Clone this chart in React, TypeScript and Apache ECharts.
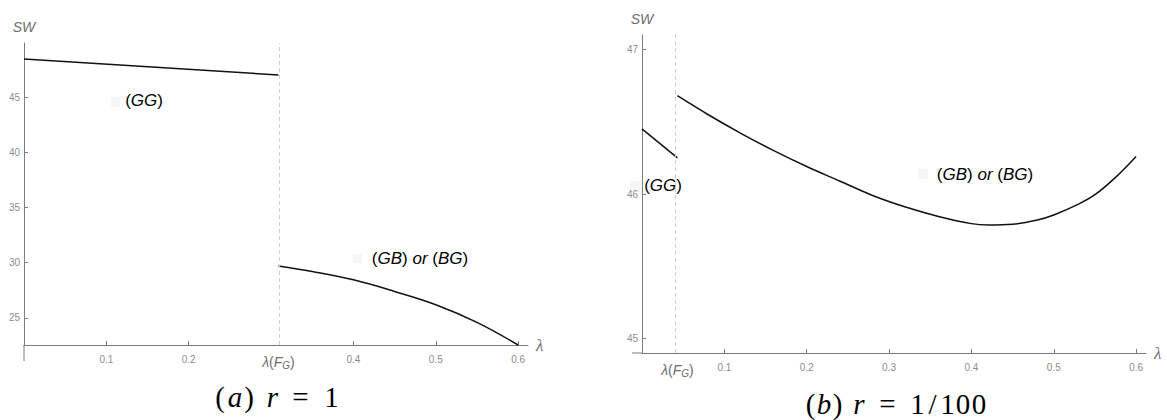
import React, { useEffect, useRef } from "react";
import * as echarts from "echarts";

// ---- data ----
const xFG_a = 0.309;
const xFG_b = 0.043;

const lambdaA_GG = [0, 0.309];
const swA_GG = [48.45, 47.0];
const lambdaA_GB = [0.309, 0.35, 0.4, 0.45, 0.5, 0.55, 0.6];
const swA_GB = [29.7, 29.2, 28.45, 27.4, 26.2, 24.6, 22.55];

const lambdaB_GG = [0, 0.043];
const swB_GG = [46.45, 46.25];
const lambdaB_GB = [0.043, 0.08, 0.12, 0.16, 0.2, 0.24, 0.28, 0.32, 0.36, 0.4, 0.42, 0.45, 0.48, 0.5, 0.53, 0.55, 0.575, 0.6];
const swB_GB = [46.68, 46.55, 46.42, 46.3, 46.19, 46.09, 45.99, 45.91, 45.845, 45.795, 45.785, 45.79, 45.82, 45.855, 45.93, 45.995, 46.115, 46.26];

const xTicksA = [0.1, 0.2, 0.4, 0.5, 0.6];
const xLabelsA = [0.1, 0.2, xFG_a, 0.4, 0.5, 0.6];
const yTicksA = [25, 30, 35, 40, 45];
const xTicksB = [0.1, 0.2, 0.3, 0.4, 0.5, 0.6];
const xLabelsB = [xFG_b, 0.1, 0.2, 0.3, 0.4, 0.5, 0.6];
const yTicksB = [45, 46, 47];

const rangeA = { xMin: 0, xMax: 0.612, yMin: 22.55, yMax: 49.9 };
const rangeB = { xMin: 0, xMax: 0.612, yMin: 44.9, yMax: 47.1 };

const zip = (xs: number[], ys: number[]) => xs.map((x, i) => [x, ys[i]]);

const SANS = "'Liberation Sans', Arial, sans-serif";
const SERIF = "'Liberation Serif', 'DejaVu Serif', serif";
const axisGray = "#7c7c7c";
const tickLabelGray = "#8c8c8c";
const nameGray = "#6e6e6e";

const xLabelRich = {
  t: { fontSize: 10, color: tickLabelGray, fontFamily: SANS },
  li: { fontSize: 14, color: nameGray, fontFamily: SANS, fontStyle: "italic" },
  p: { fontSize: 14, color: nameGray, fontFamily: SANS },
  sub: { fontSize: 10, color: nameGray, fontFamily: SANS, fontStyle: "italic", verticalAlign: "bottom", padding: [6, 0, 0, 0] },
};

const makeXFormatter = (xFG: number) => (v: number) =>
  Math.abs(v - xFG) < 1e-6 ? "{li|λ}{p|(}{li|F}{sub|G}{p|)}" : "{t|" + v.toFixed(1) + "}";

const makeXAxis = (grid: number, r: any, ticks: number[], labels: number[], xFG: number) => ({
  gridIndex: grid,
  type: "value",
  min: r.xMin,
  max: r.xMax,
  splitLine: { show: false },
  axisLine: { show: true, onZero: false, lineStyle: { color: axisGray, width: 1 } },
  axisTick: { show: true, inside: true, length: 4, customValues: ticks, lineStyle: { color: axisGray } },
  axisLabel: { show: true, customValues: labels, margin: 9, formatter: makeXFormatter(xFG), rich: xLabelRich },
  name: "λ",
  nameLocation: "end",
  nameGap: 8,
  nameTextStyle: { fontSize: 17, fontStyle: "italic", color: nameGray, fontFamily: SERIF, verticalAlign: "middle" },
});

const makeYAxis = (grid: number, r: any, ticks: number[]) => ({
  gridIndex: grid,
  type: "value",
  min: r.yMin,
  max: r.yMax,
  splitLine: { show: false },
  axisLine: { show: true, onZero: false, lineStyle: { color: axisGray, width: 1 } },
  axisTick: { show: true, inside: true, length: 4, customValues: ticks, lineStyle: { color: axisGray } },
  axisLabel: { show: true, customValues: ticks, margin: 4, fontSize: 10, color: tickLabelGray, fontFamily: SANS },
  name: "SW",
  nameLocation: "end",
  nameGap: 9,
  nameTextStyle: { fontSize: 14, fontStyle: "italic", color: nameGray, fontFamily: SANS },
});

const dashedLine = (xv: number) => ({
  silent: true,
  symbol: ["none", "none"],
  label: { show: false },
  lineStyle: { type: [4, 3], color: "#cfcfcf", width: 1 },
  data: [{ xAxis: xv }],
});

const lineSeries = (grid: number, data: number[][], smooth: number | false, mark?: any) => ({
  type: "line",
  xAxisIndex: grid,
  yAxisIndex: grid,
  data,
  smooth,
  symbol: "none",
  lineStyle: { color: "#111", width: 1.5 },
  itemStyle: { color: "#111" },
  z: 3,
  ...(mark ? { markLine: mark } : {}),
});

const annRich = {
  n: { fontSize: 17, color: "#111", fontFamily: SANS },
  i: { fontSize: 17, color: "#111", fontFamily: SANS, fontStyle: "italic" },
};
const GG_TEXT = "{n|(}{i|GG}{n|)}";
const GB_TEXT = "{n|(}{i|GB}{n|) }{i|or}{n| (}{i|BG}{n|)}";

const capTok = (fam: string) => ({ fontSize: 29, color: "#111", fontFamily: SERIF, fontStyle: fam, align: "center" });
const capRich: any = {};
[6, 8, 9, 10, 11, 12, 13, 14, 15, 16, 18, 20, 25].forEach((w) => {
  capRich["n" + w] = { ...capTok("normal"), width: w };
  capRich["i" + w] = { ...capTok("italic"), width: w };
  capRich["g" + w] = { width: w };
});
const tok = (s: string, style: string, w: number) => `{${style}${w}|${s}}`;

const CAP_A =
  tok("(", "n", 10) + tok("a", "i", 20) + tok(")", "n", 8) + tok("", "g", 14) +
  tok("r", "i", 11) + tok("", "g", 10) + tok("=", "n", 25) + tok("", "g", 12) + tok("1", "n", 13);
const CAP_B =
  tok("(", "n", 9) + tok("b", "i", 18) + tok(")", "n", 9) + tok("", "g", 10) +
  tok("r", "i", 14) + tok("", "g", 9) + tok("=", "n", 25) + tok("", "g", 10) +
  tok("1", "n", 15) + tok("/", "n", 15) + tok("1", "n", 15) + tok("0", "n", 16) + tok("0", "n", 16);

const faint = (x: number, y: number, w: number, h: number) => ({
  type: "rect",
  shape: { x, y, width: w, height: h },
  style: { fill: "#f6f6f6" },
  silent: true,
  z: -10,
});

const annText = (x: number, y: number, text: string) => ({
  type: "text",
  x,
  y,
  style: { text, rich: annRich, align: "center", verticalAlign: "middle" },
  silent: true,
  z: 5,
});

export default function App() {
  const ref = useRef<HTMLDivElement>(null);
  useEffect(() => {
    document.body.style.margin = "0";
    const chart = echarts.init(ref.current!, null, { renderer: "svg" });
    const option: any = {
      animation: false,
      backgroundColor: "#fff",
      grid: [
        { left: 24, top: 43, width: 504, height: 302 },
        { left: 642, top: 35, width: 504, height: 318 },
      ],
      xAxis: [makeXAxis(0, rangeA, xTicksA, xLabelsA, xFG_a), makeXAxis(1, rangeB, xTicksB, xLabelsB, xFG_b)],
      yAxis: [makeYAxis(0, rangeA, yTicksA), makeYAxis(1, rangeB, yTicksB)],
      series: [
        lineSeries(0, zip(lambdaA_GG, swA_GG), false, dashedLine(xFG_a)),
        lineSeries(0, zip(lambdaA_GB, swA_GB), 0.4),
        lineSeries(1, zip(lambdaB_GG, swB_GG), false, dashedLine(xFG_b)),
        lineSeries(1, zip(lambdaB_GB, swB_GB), 0.35),
      ],
      graphic: [
        { type: "line", shape: { x1: 24, y1: 345, x2: 24, y2: 361 }, style: { stroke: axisGray, lineWidth: 1 }, silent: true },
        { type: "line", shape: { x1: 632, y1: 353, x2: 642, y2: 353 }, style: { stroke: axisGray, lineWidth: 1 }, silent: true },
        faint(111, 97, 9, 10),
        faint(353, 254, 9, 9),
        faint(630, 181, 11, 11),
        faint(918, 169, 10, 10),
        annText(144, 100, GG_TEXT),
        annText(420, 258, GB_TEXT),
        annText(663, 185, GG_TEXT),
        annText(985, 174, GB_TEXT),
        {
          type: "text",
          x: 215,
          y: 397,
          style: { text: CAP_A, rich: capRich, align: "left", verticalAlign: "middle" },
          silent: true,
        },
        {
          type: "text",
          x: 806,
          y: 404,
          style: { text: CAP_B, rich: capRich, align: "left", verticalAlign: "middle" },
          silent: true,
        },
      ],
    };
    chart.setOption(option);
    return () => chart.dispose();
  }, []);
  return <div ref={ref} style={{ width: 1167, height: 420 }} />;
}
